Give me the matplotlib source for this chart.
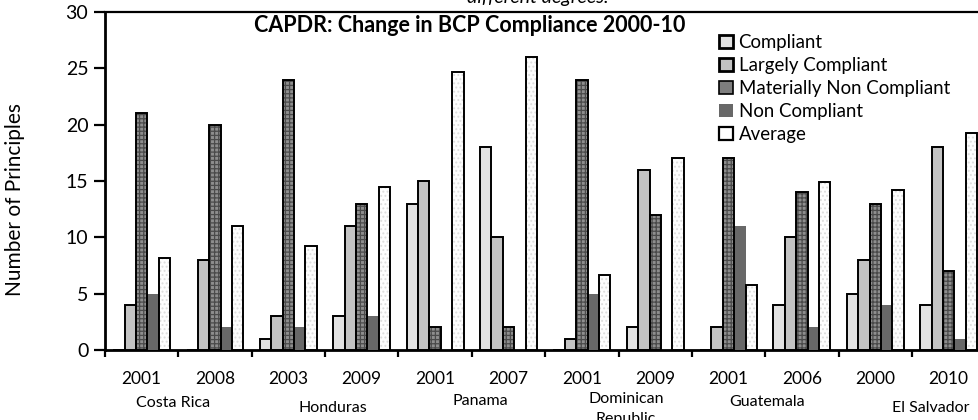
import matplotlib
matplotlib.use("Agg")
import matplotlib.pyplot as plt
import matplotlib.transforms as mtransforms
from matplotlib.patches import Patch
import numpy as np

plt.rcParams['font.family'] = ['Lato', 'DejaVu Sans']
plt.rcParams['hatch.linewidth'] = 0.9

# ---- data -------------------------------------------------------------
years = ["2001", "2008", "2003", "2009", "2001", "2007",
         "2001", "2009", "2001", "2006", "2000", "2010"]
countries = ["Costa Rica", "Honduras", "Panama",
             "Dominican\nRepublic", "Guatemala", "El Salvador"]
series_names = ["Compliant", "Largely Compliant", "Materially Non Compliant",
                "Non Compliant", "Average"]

compliant = [0, 0, 1, 3, 13, 18, 0, 2, 0, 4, 5, 4]
largely_compliant = [4, 8, 3, 11, 15, 10, 1, 16, 2, 10, 8, 18]
materially_non_compliant = [21, 20, 24, 13, 2, 2, 24, 12, 17, 14, 13, 7]
non_compliant = [5, 2, 2, 3, 0, 0, 5, 0, 11, 2, 4, 1]
average = [8.2, 11, 9.25, 14.45, 24.7, 26, 6.7, 17, 5.75, 14.95, 14.2, 19.3]

title = "CAPDR: Change in BCP Compliance 2000-10"
ylabel = "Number of Principles"

# ---- figure -----------------------------------------------------------
W, H = 979, 420
fig = plt.figure(figsize=(W / 100, H / 100), dpi=100)
ax = fig.add_axes([105 / W, 70 / H, 880.3 / W, 338 / H])

n = len(years)
x = np.arange(n) + 0.5
bw = 0.155
edge_lw = 1.4

series = [compliant, largely_compliant, materially_non_compliant,
          non_compliant, average]

# Compliant
ax.bar(x - 2 * bw, series[0], bw, color="#e2e2e2", edgecolor="black",
       linewidth=edge_lw, zorder=3)
# Largely compliant
ax.bar(x - 1 * bw, series[1], bw, color="#c3c3c3", edgecolor="black",
       linewidth=edge_lw, zorder=3)
# Materially non compliant: textured fill, then black outline
ax.bar(x, series[2], bw, color="#8e8e8e", edgecolor="#4a4a4a",
       hatch="++++", linewidth=0, zorder=3)
ax.bar(x, series[2], bw, fill=False, edgecolor="black",
       linewidth=edge_lw, zorder=4)
# Non compliant (no outline)
ax.bar(x + 1 * bw, series[3], bw, color="#686868", linewidth=0, zorder=3)
# Average: pale dotted fill with outline
ax.bar(x + 2 * bw, series[4], bw, color="#fdfdfd", edgecolor="#dddddd",
       hatch="....", linewidth=0, zorder=3)
ax.bar(x + 2 * bw, series[4], bw, fill=False, edgecolor="black",
       linewidth=edge_lw, zorder=4)

# ---- axes -------------------------------------------------------------
ax.set_xlim(0, n)
ax.set_ylim(0, 30)
ax.set_yticks(np.arange(0, 31, 5))
ax.tick_params(axis="y", labelsize=14, length=8, width=1.6, pad=4,
               direction="out")

ax.set_xticks(np.arange(0, n + 1))
ax.set_xticklabels([])
ax.set_xticks(x, minor=True)
ax.set_xticklabels(years, minor=True)
ax.tick_params(axis="x", which="major", length=5, width=1.6, direction="out")
ax.tick_params(axis="x", which="minor", length=0, labelsize=12.5, pad=15)

for s in ("left", "bottom"):
    ax.spines[s].set_linewidth(2)
ax.spines["top"].set_linewidth(1.6)
ax.spines["right"].set_visible(False)

fig.text(15 / W, 1 - 200 / H, ylabel, rotation=90, ha="center",
         va="center", fontsize=15)

ax.text(470 / W, 1 - 25 / H, title, transform=fig.transFigure,
        ha="center", va="center", fontsize=15.5, fontweight="bold")

fig.text(538 / W, 1 - 3 / H, "different degrees.", ha="center",
         va="baseline", fontsize=14, style="italic")

# Country names under the year pairs
country_x = [0.93, 3.11, 5.11, 7.1, 9.03, 11.25]
country_py = [403, 408, 401, 392, 402, 408]
trans = mtransforms.blended_transform_factory(ax.transData, fig.transFigure)
for name, cx, py in zip(countries, country_x, country_py):
    ax.text(cx, 1 - py / H, name, transform=trans, ha="center",
            va="top" if "\n" in name else "center",
            fontsize=11.5, linespacing=1.5)

# ---- legend -----------------------------------------------------------
handles = [
    Patch(facecolor="#e2e2e2", edgecolor="black", linewidth=2),
    Patch(facecolor="#c3c3c3", edgecolor="black", linewidth=2),
    Patch(facecolor="#7e7e7e", edgecolor="black", linewidth=1.2),
    Patch(facecolor="#686868", edgecolor="none"),
    Patch(facecolor="white", edgecolor="black", linewidth=1.6),
]
fig.legend(handles, series_names, loc="upper left",
           bbox_to_anchor=(719 / W, 1 - 34 / H), frameon=False,
           fontsize=13.4, handlelength=0.75, handleheight=0.7,
           handletextpad=0.3, labelspacing=0.32, borderpad=0,
           borderaxespad=0)

fig.savefig("out.png", dpi=100)
